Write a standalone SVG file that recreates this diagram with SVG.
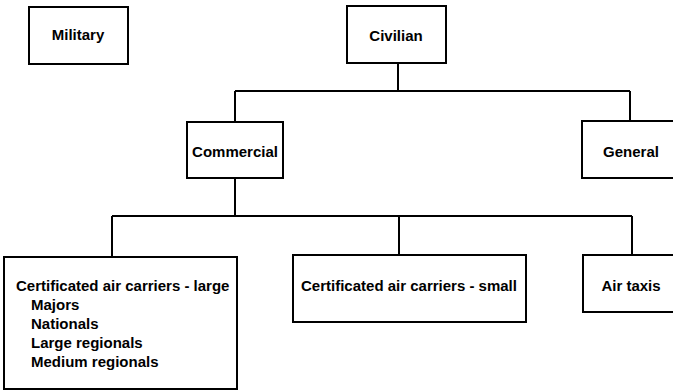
<svg xmlns="http://www.w3.org/2000/svg" width="673" height="391" viewBox="0 0 673 391">
<style>
.box{fill:#fff;stroke:#000;stroke-width:2}
.lbl{font-family:"Liberation Sans",Arial,Helvetica,sans-serif;font-size:15px;font-weight:bold;fill:#000}
.c{text-anchor:middle}
.conn{fill:none;stroke:#000;stroke-width:2}
</style>
<rect width="673" height="391" fill="#fff"/>
<g id="connectors" class="conn">
<path d="M398 63V91M235 91H630M235 91V122M630 91V121"/>
<path d="M235 178V216M112 216H632M112 216V257M399 216V255M632 216V255"/>
</g>
<g id="military"><rect class="box" x="29" y="7" width="99" height="57"/><text class="lbl c" x="78" y="40">Military</text></g>
<g id="civilian"><rect class="box" x="347" y="6" width="99" height="57"/><text class="lbl c" x="396" y="41">Civilian</text></g>
<g id="commercial"><rect class="box" x="187" y="122" width="96" height="56"/><text class="lbl c" x="235" y="157">Commercial</text></g>
<g id="general"><rect class="box" x="582" y="121" width="95" height="57"/><text class="lbl c" x="631" y="157">General</text></g>
<g id="large"><rect class="box" x="4" y="257" width="233" height="132"/>
<text class="lbl" x="16" y="291">Certificated air carriers - large</text>
<text class="lbl" x="31" y="310">Majors</text>
<text class="lbl" x="31" y="329">Nationals</text>
<text class="lbl" x="31" y="348">Large regionals</text>
<text class="lbl" x="31" y="367">Medium regionals</text></g>
<g id="small"><rect class="box" x="293" y="255" width="233" height="67"/><text class="lbl c" x="409" y="291">Certificated air carriers - small</text></g>
<g id="airtaxis"><rect class="box" x="583" y="255" width="94" height="57"/><text class="lbl c" x="631" y="291">Air taxis</text></g>
</svg>
